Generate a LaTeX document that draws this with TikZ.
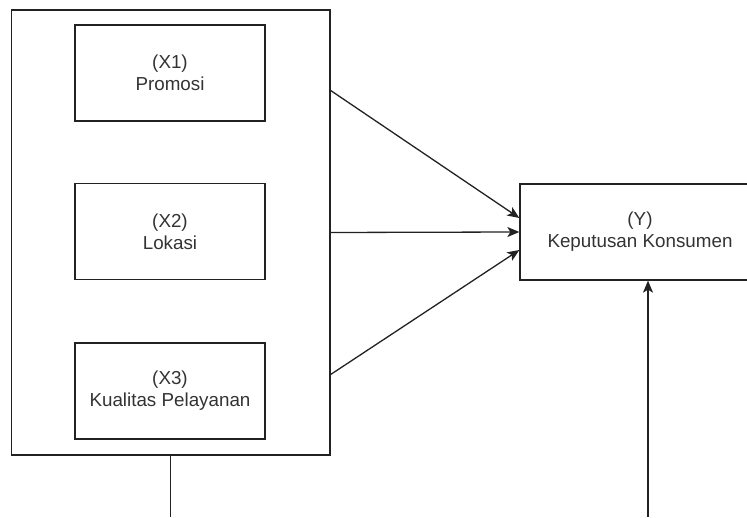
\documentclass[tikz,border=0pt]{standalone}
\usepackage{fontspec}
\setmainfont{Liberation Sans}
\usepackage{tikz}
\usetikzlibrary{arrows.meta, positioning, calc}
\definecolor{linegray}{RGB}{34,34,34}
\definecolor{textgray}{RGB}{51,51,51}

\begin{document}
\begin{tikzpicture}[x=1pt, y=1pt,
  varbox/.style={draw=linegray, line width=1.3pt, rectangle, minimum width=190pt, minimum height=96pt,
    inner sep=0pt, align=center, text=textgray, font=\fontsize{18.8}{22}\selectfont},
  link/.style={linegray, line width=1.3pt, -{Stealth[length=12pt, width=10pt, inset=3pt]}}]
  \useasboundingbox (0,0) rectangle (747,517);

  % Group of independent variables
  \node[draw=linegray, line width=1.3pt, minimum width=318.5pt, minimum height=445pt, inner sep=0pt] (grp) at (170.75,284.5) {};
  \node[varbox] (promosi) at (170,444) {(X1)\\Promosi};
  \node[varbox] (lokasi) at (170,285.5) {(X2)\\Lokasi};
  \node[varbox] (kualitas) at (170,126) {(X3)\\Kualitas Pelayanan};

  % Dependent variable (runs past the right edge)
  \node[varbox, minimum width=240pt] (keputusan) at (640,285) {(Y)\\Keputusan Konsumen};

  % Arrows into Y
  \coordinate (g1) at ([yshift=142pt]grp.east);
  \coordinate (g3) at ([yshift=-142pt]grp.east);
  \draw[link] (g1) -- ([yshift=14pt]keputusan.west);
  \draw[link] (grp.east) -- (keputusan.west);
  \draw[link] (g3) -- ([yshift=-18pt]keputusan.west);

  % Lines from the bottom edge
  \coordinate (low1) at (grp.south |- 0,0);
  \coordinate (low2) at (648,0);
  \draw[linegray, line width=1.3pt] (grp.south) -- (low1);
  \draw[link] (low2) -- (low2 |- keputusan.south);
\end{tikzpicture}
\end{document}
